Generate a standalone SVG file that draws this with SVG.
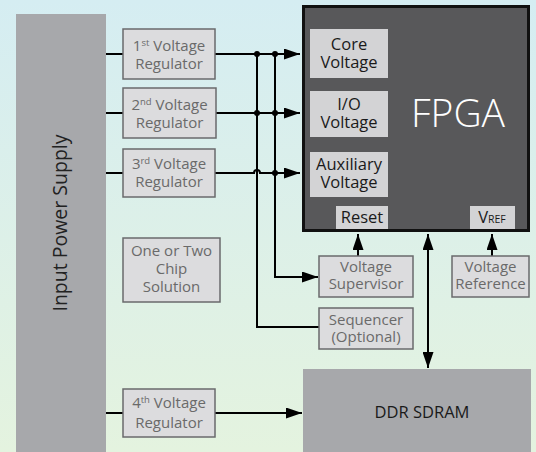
<svg xmlns="http://www.w3.org/2000/svg" width="536" height="452" viewBox="0 0 536 452">
<defs>
<linearGradient id="bg" x1="0" y1="0" x2="0" y2="1">
<stop offset="0" stop-color="#d5edf2"/>
<stop offset="1" stop-color="#e4f3df"/>
</linearGradient>
<marker id="ah" markerUnits="userSpaceOnUse" markerWidth="16" markerHeight="11" refX="16" refY="5.5" orient="auto-start-reverse">
<path d="M0,0 L16,5.5 L0,11 z" fill="#000"/>
</marker>
<style>
.reg{fill:#dcdcde;stroke:#6a6a6c;stroke-width:1.5}
.rt{font-family:"Open Sans","Noto Sans","DejaVu Sans",sans-serif;font-size:15px;fill:#6a6a6a;text-anchor:middle}
.inner{fill:#d3d3d5}
.it{font-family:"Open Sans","Noto Sans","DejaVu Sans",sans-serif;font-size:16.5px;fill:#1a1a1a;text-anchor:middle}
.ln{fill:none;stroke:#000;stroke-width:2}
.ar{marker-end:url(#ah)}
.big{fill:#a7a8ab}
</style>
</defs>
<rect x="0" y="0" width="536" height="452" fill="url(#bg)"/>

<g id="supply">
<rect class="big" x="16" y="14" width="90" height="438"/>
<text transform="translate(67,223) rotate(-90)" text-anchor="middle" font-family="'Open Sans','Noto Sans',sans-serif" font-size="19.5" fill="#222">Input Power Supply</text>
</g>

<g id="connectors">
<path class="ln" d="M106,54 H123 M106,113 H123 M106,173 H123 M106,413 H123"/>
<path class="ln ar" d="M215,54 H300"/>
<path class="ln ar" d="M216,113 H300"/>
<path class="ln ar" d="M215,173 H254 A3,3 0 0 1 260,173 H300"/>
<path class="ln" d="M257,54 V327 H319"/>
<path class="ln ar" d="M275,54 V277 H318"/>
<path class="ln ar" d="M358,256 V234"/>
<path class="ln ar" d="M492,256 V234"/>
<path class="ln ar" style="marker-start:url(#ah)" d="M428,234 V368"/>
<path class="ln ar" d="M215,413 H302"/>
<g fill="#000">
<circle cx="257" cy="54" r="3"/><circle cx="275" cy="54" r="3"/>
<circle cx="257" cy="113" r="3"/><circle cx="275" cy="113" r="3"/>
<circle cx="275" cy="173" r="3"/>
</g>
</g>

<g id="reg1">
<rect class="reg" x="123" y="29" width="92" height="50"/>
<text class="rt" x="169" y="51">1<tspan font-size="9.5" dy="-5">st</tspan><tspan dy="5"> Voltage</tspan></text>
<text class="rt" x="169" y="69">Regulator</text>
</g>
<g id="reg2">
<rect class="reg" x="123" y="88" width="93" height="50"/>
<text class="rt" x="169.5" y="110">2<tspan font-size="9.5" dy="-5">nd</tspan><tspan dy="5"> Voltage</tspan></text>
<text class="rt" x="169.5" y="128">Regulator</text>
</g>
<g id="reg3">
<rect class="reg" x="123" y="149" width="92" height="48"/>
<text class="rt" x="169" y="169">3<tspan font-size="9.5" dy="-5">rd</tspan><tspan dy="5"> Voltage</tspan></text>
<text class="rt" x="169" y="187">Regulator</text>
</g>
<g id="reg4">
<rect class="reg" x="123" y="389" width="92" height="48"/>
<text class="rt" x="169" y="408">4<tspan font-size="9.5" dy="-5">th</tspan><tspan dy="5"> Voltage</tspan></text>
<text class="rt" x="169" y="428">Regulator</text>
</g>
<g id="chip">
<rect class="reg" x="123" y="238" width="97" height="64"/>
<text class="rt" x="171.5" y="256">One or Two</text>
<text class="rt" x="171.5" y="274">Chip</text>
<text class="rt" x="171.5" y="292">Solution</text>
</g>

<g id="fpga">
<rect x="303.5" y="6.5" width="225" height="224" fill="#58585a" stroke="#111" stroke-width="3"/>
<text x="458" y="127" text-anchor="middle" font-family="'Open Sans','Noto Sans',sans-serif" font-weight="300" font-size="39" fill="#fff">FPGA</text>
<rect class="inner" x="310" y="29" width="78" height="49"/>
<text class="it" x="349" y="50">Core</text>
<text class="it" x="349" y="68">Voltage</text>
<rect class="inner" x="310" y="91" width="78" height="46"/>
<text class="it" x="349" y="110">I/O</text>
<text class="it" x="349" y="128">Voltage</text>
<rect class="inner" x="310" y="152" width="78" height="45"/>
<text class="it" x="349" y="170">Auxiliary</text>
<text class="it" x="349" y="188">Voltage</text>
<rect class="inner" x="336" y="206" width="52" height="23"/>
<text class="it" x="362" y="223">Reset</text>
<rect class="inner" x="470" y="206" width="45" height="23"/>
<text class="it" x="492" y="223">V<tspan font-size="10.5">REF</tspan></text>
</g>

<g id="supervisor">
<rect class="reg" x="319" y="256" width="94" height="41"/>
<text class="rt" x="366" y="272">Voltage</text>
<text class="rt" x="366" y="289">Supervisor</text>
</g>
<g id="reference">
<rect class="reg" x="452" y="256" width="77" height="41"/>
<text class="rt" x="490.5" y="272">Voltage</text>
<text class="rt" x="490.5" y="289">Reference</text>
</g>
<g id="sequencer">
<rect class="reg" x="319" y="308" width="94" height="41"/>
<text class="rt" x="366" y="325">Sequencer</text>
<text class="rt" x="366" y="342">(Optional)</text>
</g>
<g id="ddr">
<rect class="big" x="303" y="369" width="228" height="83"/>
<text x="422" y="418" text-anchor="middle" font-family="'Open Sans','Noto Sans',sans-serif" font-size="16.5" fill="#1a1a1a">DDR SDRAM</text>
</g>
</svg>
